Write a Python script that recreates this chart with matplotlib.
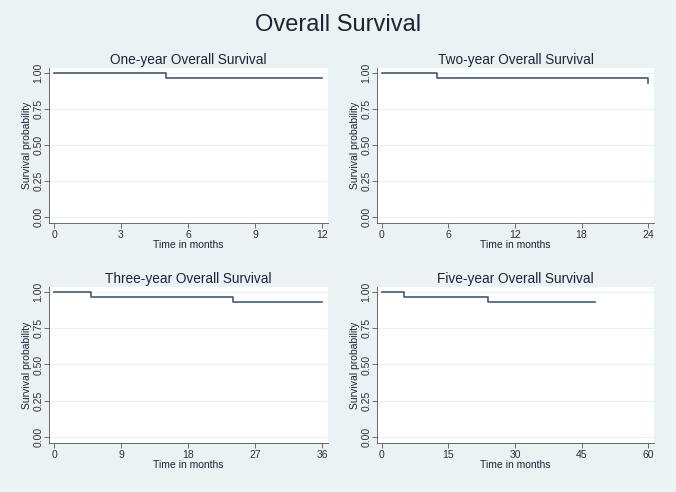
import numpy as np
import matplotlib.pyplot as plt

plt.rcParams['font.family'] = ['Liberation Sans', 'DejaVu Sans']

# Kaplan-Meier estimate
event_months = [0, 5, 24]
survival = [1.0, 0.967, 0.929]
last_followup = 48

panel_titles = ['One-year Overall Survival', 'Two-year Overall Survival',
                'Three-year Overall Survival', 'Five-year Overall Survival']
horizons = [12, 24, 36, 60]
xtick_steps = [3, 6, 9, 15]
yticks = [0.0, 0.25, 0.50, 0.75, 1.00]

bg = '#eaf2f3'
navy = '#3d5c7c'
txt = '#1c2533'

fig = plt.figure(figsize=(6.76, 4.92), dpi=100, facecolor=bg)
W, H = 676, 492
# pixel boxes: left, right, top, bottom
boxes = [(49, 328, 68, 223), (377, 654, 68, 223),
         (49, 328, 287, 443), (377, 654, 287, 443)]

fig.text(0.5, 1 - 25 / H, 'Overall Survival', ha='center', va='center',
         fontsize=17, color=txt)

for box, title, hz, step in zip(boxes, panel_titles, horizons, xtick_steps):
    l, r, t, b = box
    ax = fig.add_axes([l / W, 1 - b / H, (r - l) / W, (b - t) / H])
    ax.set_facecolor('white')

    # step curve truncated at horizon
    end = min(hz, last_followup)
    xs = [e for e in event_months if e <= end] + [end]
    ys = [s for e, s in zip(event_months, survival) if e <= end]
    ys = ys + [ys[-1]]
    ax.step(xs, ys, where='post', color=navy, lw=1.2)

    ax.set_xlim(-0.0187 * hz, hz * 1.0224)
    ax.set_ylim(-0.042, 1.035)
    ax.set_xticks(np.arange(0, hz + 1, step))
    ax.set_yticks(yticks)
    ax.set_yticklabels(['%.2f' % v for v in yticks], rotation=90, va='center')
    ax.tick_params(labelsize=7.5, colors='#555555', length=3.5, width=0.6,
                   pad=1.5, labelcolor='#2a2f38')
    ax.tick_params(axis='y', pad=0.5)
    ax.grid(axis='y', color=bg, lw=0.8)
    ax.set_axisbelow(True)
    for s in ['top', 'right']:
        ax.spines[s].set_visible(False)
    for s in ['left', 'bottom']:
        ax.spines[s].set_color('#555555')
        ax.spines[s].set_linewidth(0.6)

    ax.set_xlabel('Time in months', fontsize=7.5, color=txt, labelpad=0)
    ax.set_ylabel('Survival probability', fontsize=7.5, color=txt, labelpad=1)
    ax.set_title(title, fontsize=9.8, color=txt, pad=3)

plt.savefig('out.png', dpi=100, facecolor=bg)
